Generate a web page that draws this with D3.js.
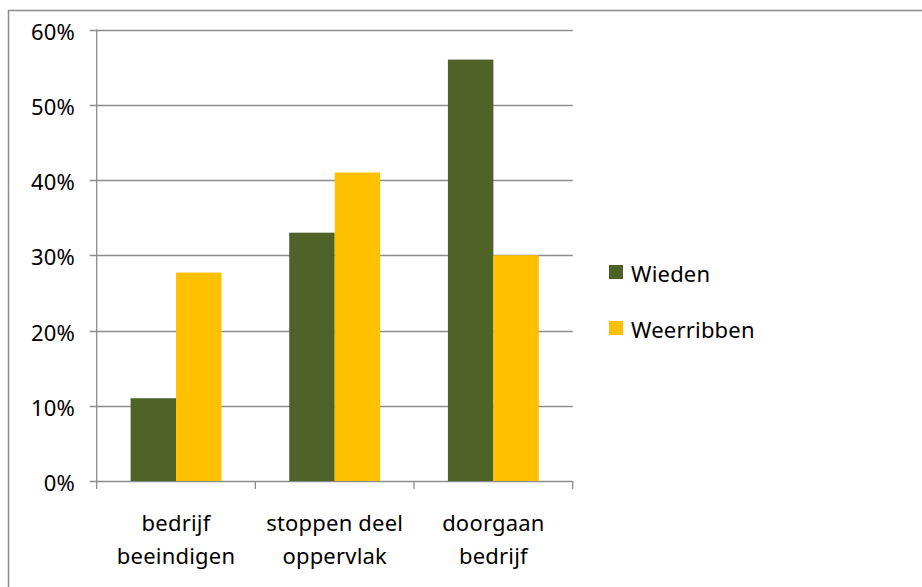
<!DOCTYPE html>
<html>
<head>
<meta charset="utf-8">
<script src="https://cdn.jsdelivr.net/npm/d3@7"></script>
<style>
  body { margin: 0; background: #fff; }
  text { font-family: "Noto Sans", sans-serif; font-size: 22px; fill: #000; letter-spacing: 0.2px; }
</style>
</head>
<body>
<div id="chart"></div>
<script>
// data
var categories = [["bedrijf", "beeindigen"], ["stoppen deel", "oppervlak"], ["doorgaan", "bedrijf"]];
var seriesNames = ["Wieden", "Weerribben"];
var wieden = [11, 33, 56];
var weerribben = [27.7, 41, 30];
var yTicks = [0, 10, 20, 30, 40, 50, 60];
var colors = ["#4f6228", "#ffc000"];

var width = 922, height = 587;
var plotLeft = 96.7, plotRight = 572.7, plotTop = 29.5, plotBottom = 481;

var svg = d3.select("#chart").append("svg")
  .attr("width", width)
  .attr("height", height);

// outer frame
svg.append("rect")
  .attr("x", 8.5).attr("y", 10.5)
  .attr("width", 1000).attr("height", 700)
  .attr("fill", "none").attr("stroke", "#8c8c8c").attr("stroke-width", 1.5);

var x = d3.scaleBand().domain(d3.range(categories.length)).range([plotLeft, plotRight]).paddingInner(0).paddingOuter(0);
var inner = d3.scaleBand().domain(seriesNames).range([0, x.bandwidth()]).paddingInner(0).paddingOuter(0.745);
var y = d3.scaleLinear().domain([0, 60]).range([plotBottom, plotTop]);

// gridlines
svg.append("g").selectAll("line").data(yTicks).enter().append("line")
  .attr("x1", plotLeft - 7).attr("x2", plotRight)
  .attr("y1", function(d) { return Math.round(y(d)) + 0.5; })
  .attr("y2", function(d) { return Math.round(y(d)) + 0.5; })
  .attr("stroke", "#8c8c8c").attr("stroke-width", 1.3);

// y axis line
svg.append("line")
  .attr("x1", plotLeft).attr("x2", plotLeft).attr("y1", plotTop).attr("y2", plotBottom)
  .attr("stroke", "#8c8c8c").attr("stroke-width", 1.3);

// x category ticks
svg.append("g").selectAll("line").data(d3.range(categories.length + 1)).enter().append("line")
  .attr("x1", function(d) { return plotLeft + d * x.bandwidth(); })
  .attr("x2", function(d) { return plotLeft + d * x.bandwidth(); })
  .attr("y1", plotBottom).attr("y2", plotBottom + 8)
  .attr("stroke", "#8c8c8c").attr("stroke-width", 1.3);

// y labels
svg.append("g").selectAll("text").data(yTicks).enter().append("text")
  .attr("x", 75).attr("y", function(d) { return y(d) + 10; })
  .attr("text-anchor", "end")
  .text(function(d) { return d + "%"; });

// bars
var series = [wieden, weerribben];
series.forEach(function(vals, si) {
  svg.append("g").selectAll("rect").data(vals).enter().append("rect")
    .attr("x", function(d, i) { return x(i) + inner(seriesNames[si]); })
    .attr("width", inner.bandwidth())
    .attr("y", function(d) { return y(d); })
    .attr("height", function(d) { return plotBottom - y(d); })
    .attr("fill", colors[si]);
});

// category labels
var cat = svg.append("g").selectAll("text").data(categories).enter().append("text")
  .attr("text-anchor", "middle");
cat.each(function(d, i) {
  var t = d3.select(this);
  d.forEach(function(line, li) {
    t.append("tspan")
      .attr("x", x(i) + x.bandwidth() / 2)
      .attr("y", 531 + li * 33)
      .text(line);
  });
});

// legend
var legend = svg.append("g").selectAll("g").data(seriesNames).enter().append("g")
  .attr("transform", function(d, i) { return "translate(609," + (265 + i * 56) + ")"; });
legend.append("rect").attr("width", 14).attr("height", 14)
  .attr("fill", function(d, i) { return colors[i]; });
legend.append("text").attr("x", 22).attr("y", 16.5).text(function(d) { return d; });
</script>
</body>
</html>
